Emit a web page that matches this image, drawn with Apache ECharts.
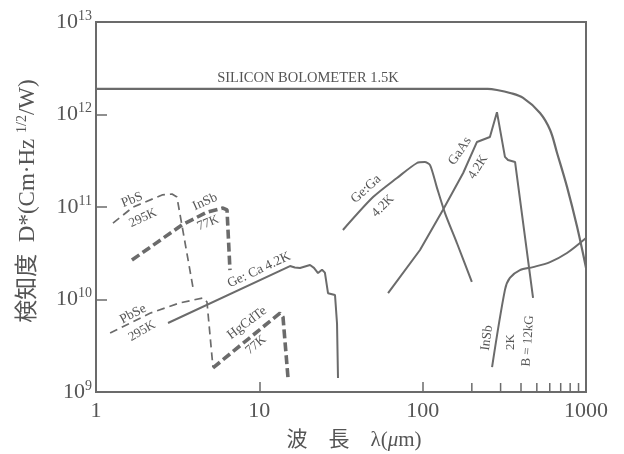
<!DOCTYPE html>
<html>
<head>
<meta charset="utf-8">
<script src="https://cdn.jsdelivr.net/npm/echarts@6/dist/echarts.min.js"></script>
<style>html,body{margin:0;padding:0;background:#fff}#c{width:624px;height:454px}</style>
</head>
<body>
<div id="c"></div>
<script>
// ---- data: [wavelength (µm), D* (cm·Hz^1/2/W)] ----
const siliconBolometer = [[1,1.89e12],[250,1.89e12],[285,1.84e12],[343,1.71e12],[412,1.51e12],[523,1.04e12],[603,6.8e11],[665,3.84e11],[766,1.64e11],[882,6.1e10],[1000,2.2e10]];
const pbs295 = [[1.27,6.7e10],[1.69,1.0e11],[2.54,1.35e11],[2.92,1.38e11],[3.13,1.28e11],[3.93,1.33e10]];
const pbse295 = [[1.22,4.35e9],[2.14,7.1e9],[3.27,9.2e9],[4.52,1.04e10],[4.78,9.4e9],[5.2,1.86e9]];
const insb77 = [[1.66,2.67e10],[3.36,6.4e10],[4.78,8.8e10],[5.99,9.75e10],[6.34,9.3e10],[6.61,2.08e10]];
const hgcdte77 = [[5.2,1.82e9],[13.38,7.14e9],[13.96,6.47e9],[14.98,1.42e9]];
const gecu42 = [[2.76,5.57e9],[15.41,2.3e10],[16.5,2.22e10],[17.74,2.19e10],[20.43,2.36e10],[21.6,2.2e10],[22.87,1.93e10],[24.2,2.1e10],[25.2,1.95e10],[26.33,1.17e10],[29.06,1.12e10],[29.9,5.5e9],[30.31,1.42e9]];
const gega42 = [[32.5,5.64e10],[49.7,1.28e11],[69.6,2.06e11],[92.3,2.99e11],[103,3.06e11],[111,2.84e11],[122,1.64e11],[137,8.6e10],[162,4.08e10],[200,1.55e10]];
const gaas42 = [[61.4,1.17e10],[96.3,3.43e10],[133,9.3e10],[177,2.33e11],[215,5.05e11],[258,5.71e11],[285,1.06e12],[319,3.48e11],[333,3.22e11],[368,3.06e11],[474,1.04e10]];
const insb2k = [[266,1.86e9],[319,1.27e10],[342,1.71e10],[394,2.08e10],[474,2.24e10],[602,2.54e10],[765,3.18e10],[1000,4.62e10]];
const minorTicks = [200,300,400,500,600,700,800,900];

const INK = '#6b6b6b';
const TXT = '#555';
const SERIF = '"Liberation Serif","Noto Sans CJK JP",serif';

// annotation texts: [text, x, y, rotation(deg), fontSize]
const notes = [
  ['SILICON BOLOMETER 1.5K', 308, 78, 0, 14.5],
  ['PbS', 132, 200, 22, 13.5],
  ['295K', 143, 218, 25, 13],
  ['InSb', 205, 202, 24, 13.5],
  ['77K', 208, 223, 22, 13],
  ['PbSe', 133, 314, 28, 13.5],
  ['295K', 142, 331, 30, 13],
  ['HgCdTe', 247, 323, 37, 13.5],
  ['77K', 256, 345, 40, 13],
  ['Ge: Ca 4.2K', 259, 270, 25, 13.5],
  ['Ge:Ga', 366, 189, 42, 13.5],
  ['4.2K', 383, 206, 45, 13],
  ['GaAs', 460, 151, 56, 13.5],
  ['4.2K', 478, 167, 58, 13],
  ['InSb', 487, 338, 82, 13.5],
  ['2K', 511, 342, 90, 13],
  ['B = 12kG', 528, 341, 86, 13]
];

const chart = echarts.init(document.getElementById('c'), null, {renderer:'canvas'});

function line(name, data, width, type, smooth) {
  return {
    name, type:'line', data, symbol:'none', smooth: smooth || false,
    lineStyle:{color:INK, width, type}, z:3, animation:false
  };
}

const graphics = notes.map(n => ({
  type:'text', x:n[1], y:n[2], rotation:n[3]*Math.PI/180,
  style:{text:n[0], fill:TXT, font:n[4]+'px '+SERIF, align:'center', verticalAlign:'middle'}
}));
graphics.push({
  type:'text', x:354, y:440,
  style:{
    text:'{a|波　長　λ(}{i|μ}{a|m)}', align:'center', verticalAlign:'middle',
    rich:{
      a:{fontSize:21, fontFamily:SERIF, fill:TXT, color:TXT},
      i:{fontSize:21, fontFamily:SERIF, fontStyle:'italic', fill:TXT, color:TXT}
    }
  }
});
graphics.push({
  type:'text', x:28, y:201, rotation:Math.PI/2,
  style:{
    text:'{a|検知度  D*(Cm·Hz }{s|1/2}{a|/W)}',
    align:'center', verticalAlign:'middle',
    rich:{
      a:{fontSize:23, fontFamily:SERIF, fill:TXT, color:TXT, lineHeight:26},
      s:{fontSize:14, fontFamily:SERIF, fill:TXT, color:TXT, verticalAlign:'top', lineHeight:26}
    }
  }
});

chart.setOption({
  animation:false,
  backgroundColor:'#fff',
  grid:{left:96, right:38, top:22, bottom:62, show:true, borderColor:INK, borderWidth:2, backgroundColor:'transparent'},
  xAxis:{
    type:'log', logBase:10, min:1, max:1000,
    axisLine:{show:true, lineStyle:{color:INK, width:2}},
    axisTick:{show:true, inside:true, length:10, lineStyle:{color:INK, width:1.5}},
    splitLine:{show:false},
    axisLabel:{color:TXT, fontFamily:SERIF, fontSize:22, margin:8, formatter:v => String(Math.round(v))}
  },
  yAxis:{
    type:'log', logBase:10, min:1e9, max:1e13,
    axisLine:{show:true, lineStyle:{color:INK, width:2}},
    axisTick:{show:true, inside:true, length:11, lineStyle:{color:INK, width:1.5}},
    splitLine:{show:false},
    axisLabel:{
      margin:4,
      formatter:v => '{b|10}{s|' + Math.round(Math.log10(v)) + '}',
      rich:{
        b:{fontSize:22, fontFamily:SERIF, color:TXT, lineHeight:26},
        s:{fontSize:14, fontFamily:SERIF, color:TXT, verticalAlign:'top', lineHeight:26}
      }
    }
  },
  graphic:graphics,
  series:[
    line('SILICON BOLOMETER 1.5K', siliconBolometer, 2.2, 'solid', 0.35),
    line('PbS 295K', pbs295, 1.7, [8,5]),
    line('PbSe 295K', pbse295, 1.7, [8,5]),
    line('InSb 77K', insb77, 3.6, [9,4]),
    line('HgCdTe 77K', hgcdte77, 3.6, [9,4]),
    line('Ge:Cu 4.2K', gecu42, 2, 'solid'),
    line('Ge:Ga 4.2K', gega42, 2, 'solid', 0.25),
    line('GaAs 4.2K', gaas42, 2, 'solid'),
    line('InSb 2K B=12kG', insb2k, 2, 'solid', 0.3),
    {
      type:'custom', name:'minor ticks', data:minorTicks.map(v => [v, 1e9]), z:4,
      renderItem:(params, api) => {
        const p = api.coord([api.value(0), api.value(1)]);
        return {type:'line', shape:{x1:p[0], y1:p[1], x2:p[0], y2:p[1]-9}, style:{stroke:INK, lineWidth:1.5}};
      },
      animation:false
    }
  ]
});
</script>
</body>
</html>
